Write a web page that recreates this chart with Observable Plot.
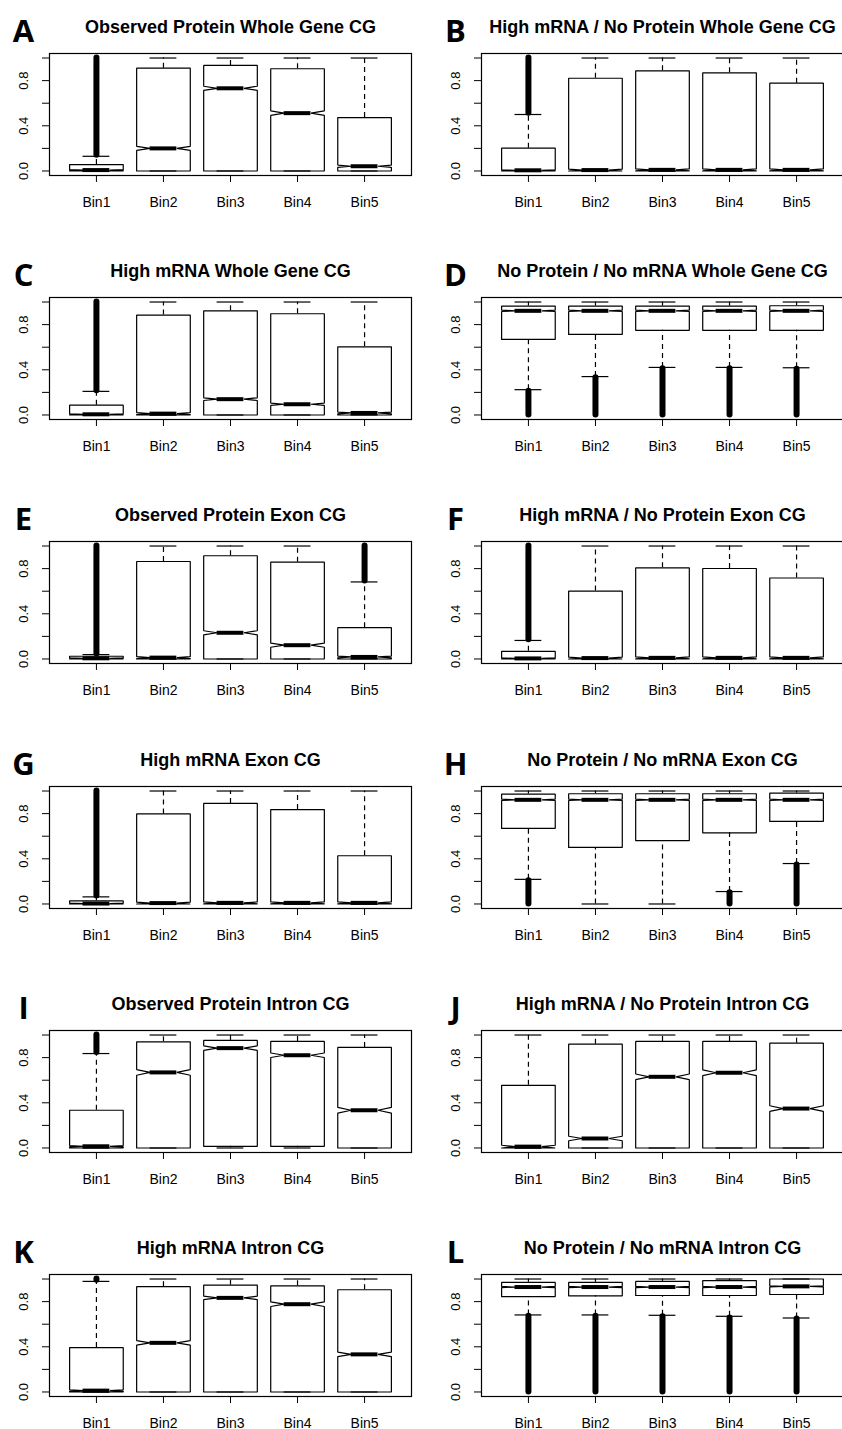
<!DOCTYPE html>
<html>
<head>
<meta charset="utf-8">
<script src="https://cdn.jsdelivr.net/npm/d3@7"></script>
<script src="https://cdn.jsdelivr.net/npm/@observablehq/plot@0.6"></script>
<style>
  html, body { margin: 0; padding: 0; background: #fff; }
  body { width: 842px; height: 1429px; overflow: hidden; position: relative; }
  .panel { position: absolute; }
</style>
</head>
<body>
<div id="chart"></div>
<script>
// ---------- data ----------
const bins = ["Bin1", "Bin2", "Bin3", "Bin4", "Bin5"];
const letters = ["A", "B", "C", "D", "E", "F", "G", "H", "I", "J", "K", "L"];
const titles = [
  "Observed Protein Whole Gene CG",
  "High mRNA / No Protein Whole Gene CG",
  "High mRNA Whole Gene CG",
  "No Protein / No mRNA Whole Gene CG",
  "Observed Protein Exon CG",
  "High mRNA / No Protein Exon CG",
  "High mRNA Exon CG",
  "No Protein / No mRNA Exon CG",
  "Observed Protein Intron CG",
  "High mRNA / No Protein Intron CG",
  "High mRNA Intron CG",
  "No Protein / No mRNA Intron CG"
];
const yTickValues = [0, 0.2, 0.4, 0.6, 0.8, 1.0];
const yTickLabels = ["0.0", "", "0.4", "", "0.8", ""];

// lower whisker end
const whiskerLo = [
  [0, 0, 0, 0, 0],
  [0, 0, 0, 0, 0],
  [0, 0, 0, 0, 0],
  [0.224, 0.34, 0.421, 0.421, 0.418],
  [0, 0, 0, 0, 0],
  [0, 0, 0, 0, 0],
  [0, 0, 0, 0, 0],
  [0.218, 0, 0, 0.11, 0.358],
  [0, 0, 0, 0, 0],
  [0, 0, 0, 0, 0],
  [0, 0, 0, 0, 0],
  [0.682, 0.682, 0.679, 0.67, 0.655]
];
// lower hinge
const q1 = [
  [0, 0, 0, 0, 0],
  [0, 0, 0, 0, 0],
  [0, 0, 0, 0, 0],
  [0.669, 0.713, 0.749, 0.749, 0.749],
  [0, 0, 0, 0, 0],
  [0, 0, 0, 0, 0],
  [0, 0, 0, 0, 0],
  [0.669, 0.501, 0.561, 0.63, 0.731],
  [0, 0, 0.015, 0.015, 0],
  [0, 0, 0, 0, 0],
  [0, 0, 0, 0, 0],
  [0.845, 0.851, 0.854, 0.854, 0.863]
];
// median
const median = [
  [0.008, 0.2, 0.732, 0.512, 0.042],
  [0.006, 0.008, 0.01, 0.01, 0.01],
  [0.006, 0.012, 0.14, 0.095, 0.018],
  [0.922, 0.922, 0.922, 0.922, 0.922],
  [0.006, 0.012, 0.232, 0.122, 0.018],
  [0.005, 0.008, 0.01, 0.01, 0.01],
  [0.004, 0.008, 0.01, 0.01, 0.01],
  [0.922, 0.922, 0.922, 0.922, 0.922],
  [0.015, 0.669, 0.884, 0.821, 0.334],
  [0.012, 0.084, 0.63, 0.666, 0.349],
  [0.012, 0.435, 0.833, 0.777, 0.333],
  [0.929, 0.929, 0.929, 0.929, 0.935]
];
// upper hinge
const q3 = [
  [0.057, 0.91, 0.934, 0.905, 0.473],
  [0.202, 0.821, 0.887, 0.869, 0.777],
  [0.087, 0.884, 0.922, 0.896, 0.603],
  [0.964, 0.964, 0.964, 0.964, 0.967],
  [0.024, 0.863, 0.914, 0.857, 0.277],
  [0.068, 0.601, 0.807, 0.801, 0.717],
  [0.027, 0.797, 0.89, 0.836, 0.427],
  [0.973, 0.976, 0.976, 0.976, 0.982],
  [0.334, 0.94, 0.952, 0.943, 0.89],
  [0.555, 0.919, 0.943, 0.943, 0.928],
  [0.393, 0.932, 0.946, 0.94, 0.905],
  [0.97, 0.97, 0.979, 0.985, 1.0]
];
// upper whisker end
const whiskerHi = [
  [0.13, 1, 1, 1, 1],
  [0.5, 1, 1, 1, 1],
  [0.209, 1, 1, 1, 1],
  [1, 1, 1, 1, 1],
  [0.039, 1, 1, 1, 0.682],
  [0.164, 1, 1, 1, 1],
  [0.063, 1, 1, 1, 1],
  [1, 1, 1, 1, 1],
  [0.836, 1, 1, 1, 1],
  [1, 1, 1, 1, 1],
  [0.979, 1, 1, 1, 1],
  [1, 1, 1, 1, 1]
];
// notch half-extent around the median
const notch = [
  [0.004, 0.018, 0.018, 0.02, 0.01],
  [0.004, 0.008, 0.008, 0.008, 0.008],
  [0.004, 0.008, 0.012, 0.01, 0.008],
  [0.006, 0.006, 0.006, 0.006, 0.006],
  [0.003, 0.008, 0.018, 0.018, 0.008],
  [0.004, 0.008, 0.008, 0.008, 0.008],
  [0.003, 0.008, 0.008, 0.008, 0.008],
  [0.006, 0.006, 0.006, 0.006, 0.006],
  [0.006, 0.025, 0.02, 0.02, 0.025],
  [0.012, 0.02, 0.025, 0.025, 0.025],
  [0.006, 0.02, 0.015, 0.02, 0.02],
  [0.005, 0.005, 0.005, 0.005, 0.005]
];
// range covered by the (dense) outlier points; null = no outliers
const outlierLo = [
  [0.14, null, null, null, null],
  [0.51, null, null, null, null],
  [0.215, null, null, null, null],
  [0, 0, 0, 0, 0],
  [0.045, null, null, null, 0.69],
  [0.17, null, null, null, null],
  [0.07, null, null, null, null],
  [0, null, null, 0, 0],
  [0.845, null, null, null, null],
  [null, null, null, null, null],
  [0.99, null, null, null, null],
  [0, 0, 0, 0, 0]
];
const outlierHi = [
  [1.0, null, null, null, null],
  [1.0, null, null, null, null],
  [1.0, null, null, null, null],
  [0.21, 0.33, 0.41, 0.41, 0.405],
  [1.0, null, null, null, 1.0],
  [1.0, null, null, null, null],
  [1.0, null, null, null, null],
  [0.205, null, null, 0.1, 0.345],
  [1.0, null, null, null, null],
  [null, null, null, null, null],
  [1.0, null, null, null, null],
  [0.67, 0.67, 0.665, 0.655, 0.645]
];

// ---------- drawing ----------
const BOX_HALF = 0.4;      // boxwex 0.8
const NOTCH_FRAC = 0.5;
const STAPLE_HALF = 0.2;
const ROW_PITCH = 244.2;
const FONT = "'Liberation Sans', Arial, Helvetica, sans-serif";

const chart = document.getElementById("chart");

for (let p = 0; p < 12; p++) {
  const row = Math.floor(p / 2), col = p % 2;
  const stats = bins.map((b, i) => ({
    x: i + 1,
    lo: whiskerLo[p][i], q1: q1[p][i], med: median[p][i], q3: q3[p][i], hi: whiskerHi[p][i],
    n: notch[p][i], oLo: outlierLo[p][i], oHi: outlierHi[p][i]
  }));
  const poly = stats.flatMap(s => {
    const nl = s.med - s.n, nh = s.med + s.n, w = BOX_HALF, wn = BOX_HALF * NOTCH_FRAC;
    return [
      [s.x - w, s.q1], [s.x + w, s.q1], [s.x + w, nl], [s.x + wn, s.med], [s.x + w, nh],
      [s.x + w, s.q3], [s.x - w, s.q3], [s.x - w, nh], [s.x - wn, s.med], [s.x - w, nl], [s.x - w, s.q1]
    ].map(([x, y]) => ({bin: s.x, x, y}));
  });
  const outs = stats.filter(s => s.oLo != null);

  const left = col === 0;
  const svg = Plot.plot({
    width: left ? 421 : 422,
    height: 244,
    marginLeft: left ? 49 : 60,
    marginRight: left ? 10 : 0,
    marginTop: 53,
    marginBottom: 69,
    style: {fontFamily: FONT, background: "white", color: "black", maxWidth: "none", overflow: "visible"},
    x: {type: "linear", domain: [0.3, 5.7]},
    y: {type: "linear", domain: [-0.04, 1.04]},
    marks: [
      Plot.frame({stroke: "black", strokeWidth: 1.2}),
      Plot.axisY({ticks: yTickValues, tickFormat: d => yTickLabels[yTickValues.indexOf(d)], tickSize: 7,
        tickPadding: 15, tickRotate: -90, fontSize: 13, label: null, strokeWidth: 1}),
      Plot.axisX({ticks: [1, 2, 3, 4, 5], tickFormat: d => bins[d - 1], tickSize: 7, tickPadding: 15,
        fontSize: 14, label: null, strokeWidth: 1}),
      // whiskers (dashed)
      Plot.ruleX(stats.filter(s => s.hi > s.q3), {x: "x", y1: "q3", y2: "hi", stroke: "black", strokeWidth: 1.2, strokeDasharray: "5,4"}),
      Plot.ruleX(stats.filter(s => s.lo < s.q1), {x: "x", y1: "lo", y2: "q1", stroke: "black", strokeWidth: 1.2, strokeDasharray: "5,4"}),
      // staples
      Plot.ruleY(stats, {y: "hi", x1: d => d.x - STAPLE_HALF, x2: d => d.x + STAPLE_HALF, stroke: "black", strokeWidth: 1.2}),
      Plot.ruleY(stats, {y: "lo", x1: d => d.x - STAPLE_HALF, x2: d => d.x + STAPLE_HALF, stroke: "black", strokeWidth: 1.2}),
      // notched boxes
      Plot.line(poly, {x: "x", y: "y", z: "bin", stroke: "black", strokeWidth: 1.2, strokeLinejoin: "miter"}),
      // medians
      Plot.ruleY(stats, {y: "med", x1: d => d.x - BOX_HALF * NOTCH_FRAC, x2: d => d.x + BOX_HALF * NOTCH_FRAC, stroke: "black", strokeWidth: 4}),
      // outliers (dense)
      Plot.ruleX(outs, {x: "x", y1: "oLo", y2: "oHi", stroke: "black", strokeWidth: 6, strokeLinecap: "round"}),
      // title and panel letter
      Plot.text([titles[p]], {text: d => d, frameAnchor: "top", dy: -33, fontSize: 18, fontWeight: "bold", fill: "black"}),
      Plot.text([letters[p]], {text: d => d, frameAnchor: "top-left", dx: -26, dy: -34, textAnchor: "middle",
        fontSize: 31, fontWeight: "bold", fontFamily: "'Open Sans', 'DejaVu Sans', sans-serif", fill: "black"})
    ]
  });
  const div = document.createElement("div");
  div.className = "panel";
  div.style.left = (col * 421) + "px";
  div.style.top = Math.round(row * ROW_PITCH) + "px";
  div.appendChild(svg);
  chart.appendChild(div);
}
</script>
</body>
</html>
